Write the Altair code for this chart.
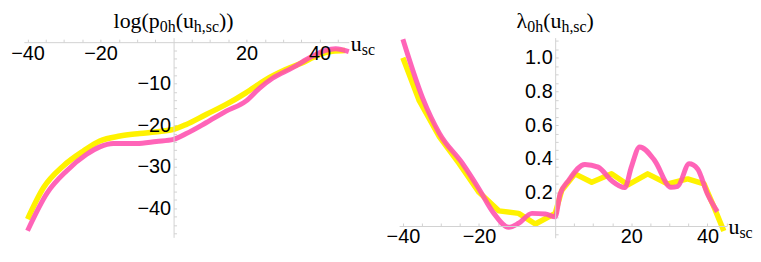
import altair as alt
import pandas as pd

# ---------------- data ----------------
# left panel: log(p0h(u_h,sc)) vs u_sc
left_yellow_u = [-40, -35.6, -30.2, -24.7, -20.2, -14.7, -9.3, -3.8, 0, 3.5, 8.9, 14.4, 19.8, 25.3, 30.7, 36.2, 39.8, 43.5, 47]
left_yellow_v = [-42.6, -35, -29.8, -26.2, -23.8, -22.6, -22, -21.5, -21, -19.8, -17.4, -15, -12.2, -9, -6.6, -4.6, -3, -2.2, -2]
left_pink_u = [-40, -34.7, -29.3, -23.8, -20.2, -16.5, -10.2, -4.7, 0, 3.5, 8.9, 14.4, 19.8, 23.5, 27.1, 32.5, 38, 41.6, 44.4, 48]
left_pink_v = [-45.4, -36.4, -31, -27, -25.2, -24.4, -24.4, -23.9, -23.4, -22, -19.4, -16.6, -14.2, -11.1, -8.7, -6.2, -3.4, -2, -1.6, -2.3]

# right panel: lambda0h(u_h,sc) vs u_sc
right_yellow_u = [-40, -35.7, -30.4, -25.2, -20, -14.8, -9.6, -5.2, 0, 1.7, 5.2, 9.6, 14.8, 19.1, 24.3, 29.6, 34.8, 39.1, 41.7, 44.3]
right_yellow_v = [1.0, 0.745, 0.53, 0.37, 0.2, 0.09, 0.075, 0.012, 0.075, 0.21, 0.31, 0.26, 0.31, 0.245, 0.31, 0.25, 0.28, 0.25, 0.114, -0.03]
right_pink_u = [-40, -34.8, -30.4, -24.3, -20, -16.1, -12.2, -9.6, -6.1, -2.6, 0, 1.3, 3.5, 7.8, 11.3, 14.8, 18.3, 20, 22.2, 26.1, 30.4, 32.2, 35.2, 37.4, 40, 42.6]
right_pink_v = [1.11, 0.76, 0.55, 0.37, 0.22, 0.075, -0.008, 0.016, 0.075, 0.071, 0.055, 0.19, 0.27, 0.366, 0.35, 0.27, 0.228, 0.35, 0.47, 0.39, 0.23, 0.236, 0.37, 0.34, 0.19, 0.085]

x_tick_labels = [-40, -20, 20, 40]
left_y_tick_labels = [-40, -30, -20, -10]
right_y_tick_labels = [0.2, 0.4, 0.6, 0.8, 1.0]
left_x_minor = [v for v in range(-40, 50, 5) if v != 0]
right_x_minor = [v for v in range(-40, 50, 5) if v != 0]
left_y_minor = [v for v in range(-46, 1, 2) if v != 0]
right_y_minor = [round(0.05 * k, 2) for k in range(-1, 23) if k != 0]

left_title = [("log(p", False), ("0h", True), ("(u", False), ("h,sc", True), ("))", False)]
right_title = [("λ", False), ("0h", True), ("(u", False), ("h,sc", True), (")", False)]
axis_name = [("u", False), ("sc", True)]

# ---------------- styling ----------------
YELLOW = "#FFF200"
PINK = "#FF4FAE"
AXC = "#D2D2D2"
SANS = "Liberation Sans"
SERIF = "Liberation Serif"
F_MAIN = 22
F_SUB = 16
SUB_DY = 4

# Times / Liberation Serif advance widths (em)
ADV = {"l": .278, "o": .5, "g": .5, "(": .333, ")": .333, "p": .5, "u": .5, "0": .5,
       "h": .5, ",": .25, "s": .389, "c": .444, "λ": .5}


def text_width(s, size):
    return sum(ADV.get(ch, .5) for ch in s) * size


def rich_text_layers(pieces, x_start, baseline, one):
    layers = []
    x = x_start
    for txt, sub in pieces:
        size = F_SUB if sub else F_MAIN
        y = baseline + (SUB_DY if sub else 0)
        layers.append(
            alt.Chart(one).mark_text(text=txt, align="left", baseline="alphabetic",
                                     font=SERIF, fontSize=size, color="black")
            .encode(x=alt.value(x), y=alt.value(y))
        )
        x += text_width(txt, size)
    return layers


def rich_width(pieces):
    return sum(text_width(t, F_SUB if s else F_MAIN) for t, s in pieces)


def panel(yu, yv, pu, pv, xdom, ydom, W, H, ylabels, yfmt, xminor, yminor,
          yellow_interp, title, anchor=None):
    sx = W / (xdom[1] - xdom[0])
    sy = H / (ydom[1] - ydom[0])
    x0 = (0 - xdom[0]) * sx
    y0 = (ydom[1] - 0) * sy
    xs = alt.Scale(domain=xdom, nice=False, zero=False)
    ys = alt.Scale(domain=ydom, nice=False, zero=False)
    one = pd.DataFrame({"k": [0]})

    dfy = pd.DataFrame({"u": yu, "v": yv})
    dfp = pd.DataFrame({"u": pu, "v": pv})

    yellow = alt.Chart(dfy).mark_line(color=YELLOW, strokeWidth=5.5, interpolate=yellow_interp,
                                      strokeCap="butt", strokeJoin="round").encode(
        x=alt.X("u:Q", scale=xs, axis=alt.Axis(
            orient="bottom", offset=-(H - y0), values=x_tick_labels, ticks=False, grid=False,
            domainColor=AXC, domainWidth=1, labelFont=SANS, labelFontSize=20, labelColor="black",
            labelPadding=1, labelFlush=False, labelOverlap=False, title=None, zindex=1)),
        y=alt.Y("v:Q", scale=ys, axis=alt.Axis(
            orient="left", offset=-x0, values=ylabels, format=yfmt, ticks=False, grid=False,
            domainColor=AXC, domainWidth=1, labelFont=SANS, labelFontSize=20, labelColor="black",
            labelPadding=3, labelFlush=False, labelOverlap=False, title=None, zindex=1)),
    )
    pink = alt.Chart(dfp).mark_line(color=PINK, strokeWidth=5, opacity=0.88, interpolate="monotone",
                                    strokeCap="butt", strokeJoin="round").encode(
        x=alt.X("u:Q", scale=xs, axis=alt.Axis(
            orient="top", offset=-y0, values=xminor, labels=False, domain=False, grid=False,
            ticks=True, tickSize=3, tickColor=AXC, title=None)),
        y=alt.Y("v:Q", scale=ys, axis=alt.Axis(
            orient="right", offset=-(W - x0), values=yminor, labels=False, domain=False, grid=False,
            ticks=True, tickSize=3, tickColor=AXC, title=None)),
    )
    layers = [yellow, pink]
    tw = rich_width(title)
    layers += rich_text_layers(title, x0 - tw / 2, -9.4, one)
    layers += rich_text_layers(axis_name, W + 2, y0 + 8.5, one)
    if anchor is not None:
        layers.append(alt.Chart(one).mark_rule(strokeWidth=0.01, strokeOpacity=0).encode(
            x=alt.value(anchor[0]), x2=alt.value(anchor[0] + 1),
            y=alt.value(anchor[1]), y2=alt.value(anchor[1])))
    return alt.layer(*layers).resolve_axis(x="independent", y="independent").properties(
        width=W, height=H)


left = panel(left_yellow_u, left_yellow_v, left_pink_u, left_pink_v,
             [-41, 48], [-47, 1.1], 327.1, 201.1, left_y_tick_labels, "d",
             left_x_minor, left_y_minor, "monotone", left_title, anchor=(-15.3, -28.4))
right = panel(right_yellow_u, right_yellow_v, right_pink_u, right_pink_v,
              [-41, 45], [-0.07, 1.12], 329.6, 201.5, right_y_tick_labels, ".1f",
              right_x_minor, right_y_minor, "linear", right_title)

chart = alt.hconcat(left, right, spacing=49.7, bounds="flush").properties(
    padding=0, background="white").configure_view(stroke=None)

chart.save("out.html", embed_options={"renderer": "svg", "actions": False})
